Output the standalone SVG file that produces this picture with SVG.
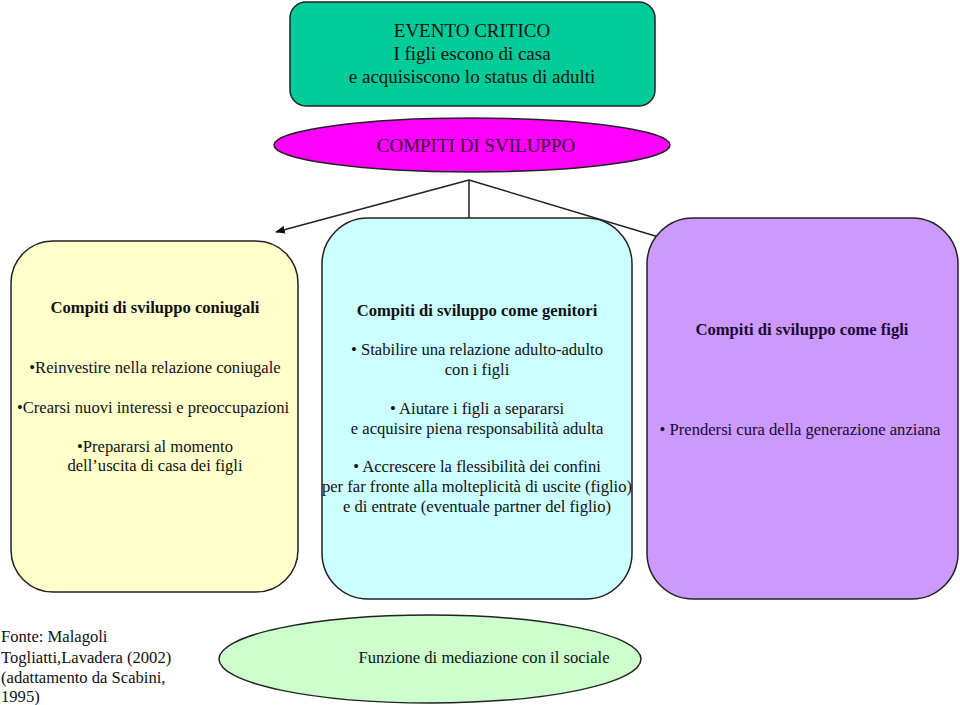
<svg xmlns="http://www.w3.org/2000/svg" width="960" height="705" viewBox="0 0 960 705">
<defs>
<style>
.box{stroke:#222;stroke-width:1.5}
.t{font-family:"Liberation Serif","Times New Roman",serif;fill:#111;text-anchor:middle;font-size:16.6px}
.big{font-size:19px}
.b{font-weight:bold}
.l{text-anchor:start}
.conn{stroke:#222;stroke-width:1.5;fill:none}
</style>
<marker id="arr" markerWidth="10" markerHeight="8" refX="9" refY="4" orient="auto" markerUnits="userSpaceOnUse">
<path d="M0,0 L10,4 L0,8 z" fill="#111"/>
</marker>
</defs>
<rect width="960" height="705" fill="#fff"/>
<g id="connectors">
<line class="conn" x1="469" y1="180" x2="276" y2="232" marker-end="url(#arr)"/>
<line class="conn" x1="469" y1="180" x2="469" y2="218"/>
<line class="conn" x1="469" y1="180" x2="662" y2="238"/>
</g>
<g id="evento">
<rect class="box" x="290" y="2" width="365" height="104" rx="16" fill="#00CC99"/>
<text class="t big" x="472" y="37">EVENTO CRITICO</text>
<text class="t big" x="472" y="60">I figli escono di casa</text>
<text class="t big" x="472" y="83">e acquisiscono lo status di adulti</text>
</g>
<g id="compiti">
<ellipse class="box" cx="472" cy="145" rx="198" ry="27" fill="#FF00FF"/>
<text class="t big" x="476" y="152" style="fill:#330033">COMPITI DI SVILUPPO</text>
</g>
<g id="coniugali">
<rect class="box" x="11" y="241" width="287" height="351" rx="42" fill="#FFFFCC"/>
<text class="t b" x="155" y="313">Compiti di sviluppo coniugali</text>
<text class="t" x="155" y="373">•Reinvestire nella relazione coniugale</text>
<text class="t" x="153" y="413">•Crearsi nuovi interessi e preoccupazioni</text>
<text class="t" x="155" y="452">•Prepararsi al momento</text>
<text class="t" x="155" y="471">dell’uscita di casa dei figli</text>
</g>
<g id="genitori">
<rect class="box" x="322" y="218" width="310" height="381" rx="46" fill="#CCFFFF"/>
<text class="t b" x="477" y="316">Compiti di sviluppo come genitori</text>
<text class="t" x="477" y="355">• Stabilire una relazione adulto-adulto</text>
<text class="t" x="477" y="375">con i figli</text>
<text class="t" x="477" y="414">• Aiutare i figli a separarsi</text>
<text class="t" x="477" y="434">e acquisire piena responsabilità adulta</text>
<text class="t" x="477" y="472">• Accrescere la flessibilità dei confini</text>
<text class="t" x="477" y="492">per far fronte alla molteplicità di uscite (figlio)</text>
<text class="t" x="477" y="512">e di entrate (eventuale partner del figlio)</text>
</g>
<g id="figli">
<rect class="box" x="647" y="218" width="311" height="381" rx="46" fill="#CC99FF"/>
<text class="t b" x="802" y="335" style="fill:#1a0a33">Compiti di sviluppo come figli</text>
<text class="t" x="800" y="435" style="fill:#1a0a33">• Prendersi cura della generazione anziana</text>
</g>
<g id="fonte">
<text class="t l" x="1" y="642">Fonte: Malagoli</text>
<text class="t l" x="1" y="663">Togliatti,Lavadera (2002)</text>
<text class="t l" x="1" y="683">(adattamento da Scabini,</text>
<text class="t l" x="1" y="702">1995)</text>
</g>
<g id="mediazione">
<ellipse class="box" cx="430" cy="659" rx="211" ry="44" fill="#CCFFCC"/>
<text class="t" x="484" y="663">Funzione di mediazione con il sociale</text>
</g>
</svg>
